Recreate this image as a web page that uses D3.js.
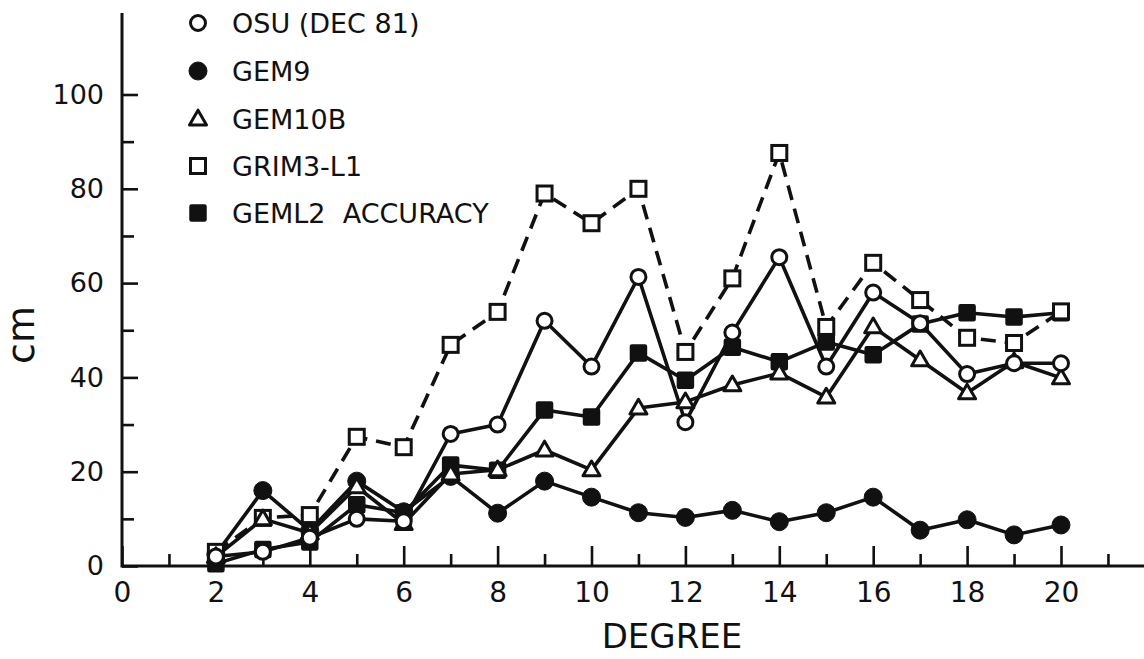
<!DOCTYPE html>
<html>
<head>
<meta charset="utf-8">
<script src="https://cdn.jsdelivr.net/npm/d3@7"></script>
<style>
  html, body { margin: 0; padding: 0; background: #fff; }
  svg { display: block; }
  text { font-family: "DejaVu Sans", sans-serif; fill: #111; }
</style>
</head>
<body>
<svg id="chart" width="1144" height="659"></svg>
<script>
// Degree-by-degree geoid height differences (cm)
const degrees = [2, 3, 4, 5, 6, 7, 8, 9, 10, 11, 12, 13, 14, 15, 16, 17, 18, 19, 20];
const osu   = [2, 3, 6, 10, 9.5, 28, 30, 52, 42.3, 61.3, 30.5, 49.5, 65.5, 42.3, 58, 51.5, 40.7, 43, 43];
const gem9  = [2.5, 16, 7.5, 18, 11.5, 19, 11.2, 18, 14.6, 11.3, 10.3, 11.8, 9.4, 11.3, 14.6, 7.6, 9.8, 6.6, 8.7];
const gem10b = [2, 10, 7, 16.8, 9, 19.5, 20.4, 24.6, 20.4, 33.5, 34.8, 38.4, 40.9, 35.8, 50.7, 43.7, 36.7, 43.3, 39.9];
const grim  = [3, 10.2, 10.8, 27.4, 25.2, 46.9, 53.9, 79, 72.7, 80, 45.4, 61, 87.6, 50.7, 64.3, 56.4, 48.4, 47.3, 54];
const geml2 = [0.5, 3.5, 5.1, 13, 11.3, 21.4, 20.3, 33.1, 31.6, 45.2, 39.4, 46.4, 43.3, 47.5, 44.8, 51.3, 53.7, 52.8, 53.7];

const seriesNames = ["OSU (DEC 81)", "GEM9", "GEM10B", "GRIM3-L1", "GEML2  ACCURACY"];
const xMajorTicks = [0, 2, 4, 6, 8, 10, 12, 14, 16, 18, 20];
const xMinorTicks = [1, 3, 5, 7, 9, 11, 13, 15, 17, 19, 21];
const yMajorTicks = [0, 20, 40, 60, 80, 100];
const yMinorTicks = [10, 30, 50, 70, 90];

const svg = d3.select("#chart");
const x = d3.scaleLinear().domain([0, 20]).range([122, 1061]);
const y = d3.scaleLinear().domain([0, 100]).range([566, 94.5]);

const INK = "#111";

// Axis lines
svg.append("line").attr("x1", x(0)).attr("x2", 1144).attr("y1", y(0)).attr("y2", y(0))
  .attr("stroke", INK).attr("stroke-width", 3);
svg.append("line").attr("x1", x(0)).attr("x2", x(0)).attr("y1", y(0) + 1.5).attr("y2", y(117.3))
  .attr("stroke", INK).attr("stroke-width", 3);

function styleAxis(g, size) {
  g.select(".domain").remove();
  g.selectAll(".tick line").attr("stroke", INK).attr("stroke-width", 2.6);
  g.selectAll(".tick text").attr("fill", INK).style("font-size", size + "px")
    .style("font-family", "'DejaVu Sans', sans-serif");
}

// X axis: major ticks with labels, minor ticks between
svg.append("g").attr("transform", `translate(0,${y(0)})`)
  .call(d3.axisBottom(x).tickValues(xMajorTicks).tickSize(-20).tickPadding(16)
    .tickFormat(d3.format("d")))
  .call(styleAxis, 28);
svg.append("g").attr("transform", `translate(0,${y(0)})`)
  .call(d3.axisBottom(x).tickValues(xMinorTicks).tickSize(-12).tickFormat(""))
  .call(styleAxis, 28);

// Y axis
svg.append("g").attr("transform", `translate(${x(0)},0)`)
  .call(d3.axisLeft(y).tickValues(yMajorTicks).tickSize(-16).tickPadding(18)
    .tickFormat(d3.format("d")))
  .call(styleAxis, 27);
svg.append("g").attr("transform", `translate(${x(0)},0)`)
  .call(d3.axisLeft(y).tickValues(yMinorTicks).tickSize(-12).tickFormat(""))
  .call(styleAxis, 27);

// Axis titles
svg.append("text").attr("x", 672).attr("y", 648).attr("text-anchor", "middle")
  .style("font-size", "34px").text("DEGREE");
svg.append("text").attr("transform", "translate(34,335) rotate(-90)")
  .attr("text-anchor", "middle").style("font-size", "38px").text("cm");

// Marker drawing
function drawMarker(g, kind, cx, cy) {
  if (kind === "openCircle") {
    g.append("circle").attr("cx", cx).attr("cy", cy).attr("r", 7.5)
      .attr("fill", "#fff").attr("stroke", INK).attr("stroke-width", 3);
  } else if (kind === "filledCircle") {
    g.append("circle").attr("cx", cx).attr("cy", cy).attr("r", 9)
      .attr("fill", INK).attr("stroke", INK).attr("stroke-width", 1);
  } else if (kind === "openTriangle") {
    const s = 17, h = s * Math.sqrt(3) / 2;
    g.append("path")
      .attr("d", `M${cx},${cy - h * 0.6}L${cx + s / 2},${cy + h * 0.4}L${cx - s / 2},${cy + h * 0.4}Z`)
      .attr("fill", "#fff").attr("stroke", INK).attr("stroke-width", 3).attr("stroke-linejoin", "round");
  } else if (kind === "openSquare") {
    g.append("rect").attr("x", cx - 7.5).attr("y", cy - 7.5).attr("width", 15).attr("height", 15)
      .attr("fill", "#fff").attr("stroke", INK).attr("stroke-width", 3);
  } else if (kind === "filledSquare") {
    g.append("rect").attr("x", cx - 8).attr("y", cy - 8).attr("width", 16).attr("height", 16)
      .attr("fill", INK).attr("stroke", INK).attr("stroke-width", 1.5).attr("rx", 1.5);
  }
}

const series = [
  { name: seriesNames[0], values: osu,    marker: "openCircle",   dash: null },
  { name: seriesNames[1], values: gem9,   marker: "filledCircle", dash: null },
  { name: seriesNames[2], values: gem10b, marker: "openTriangle", dash: null },
  { name: seriesNames[3], values: grim,   marker: "openSquare",   dash: "15,9" },
  { name: seriesNames[4], values: geml2,  marker: "filledSquare", dash: null }
];

const line = d3.line().x(d => x(d[0])).y(d => y(d[1]));

// Lines first
const linesG = svg.append("g");
series.forEach(s => {
  linesG.append("path")
    .datum(degrees.map((d, i) => [d, s.values[i]]))
    .attr("d", line)
    .attr("fill", "none").attr("stroke", INK).attr("stroke-width", 3.6)
    .attr("stroke-linejoin", "round")
    .attr("stroke-dasharray", s.dash);
});

// Markers drawn on top
const markerOrder = [1, 4, 3, 2, 0];
const marksG = svg.append("g");
markerOrder.forEach(k => {
  const s = series[k];
  degrees.forEach((d, i) => drawMarker(marksG, s.marker, x(d), y(s.values[i])));
});

// Legend
const legendY = [23, 71, 119, 166, 213];
const legG = svg.append("g");
series.forEach((s, i) => {
  drawMarker(legG, s.marker, 198, legendY[i]);
  legG.append("text").attr("x", 232).attr("y", legendY[i]).attr("dy", "0.36em")
    .style("font-size", "27px").style("white-space", "pre").text(s.name);
});
</script>
</body>
</html>
